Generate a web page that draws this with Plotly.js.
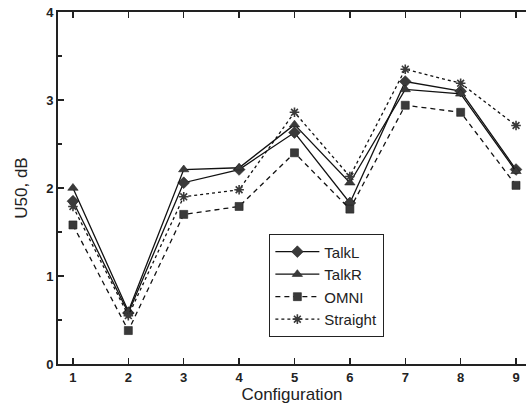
<!DOCTYPE html>
<html>
<head>
<meta charset="utf-8">
<script src="https://cdn.plot.ly/plotly-3.0.1.min.js"></script>
<style>
  html, body { margin: 0; padding: 0; background: #fff; }
  #chart { width: 526px; height: 411px; }
</style>
</head>
<body>
<div id="chart"></div>
<script>
// Configuration numbers on the x axis
const configurations = [1, 2, 3, 4, 5, 6, 7, 8, 9];

// U50 values (dB) for each microphone setting
const talkL    = [1.85, 0.58, 2.06, 2.21, 2.63, 1.83, 3.21, 3.10, 2.21];
const talkR    = [2.00, 0.60, 2.21, 2.23, 2.72, 2.06, 3.12, 3.07, 2.19];
const omni     = [1.58, 0.38, 1.70, 1.79, 2.40, 1.76, 2.94, 2.86, 2.03];
const straight = [1.79, 0.55, 1.90, 1.98, 2.86, 2.13, 3.35, 3.19, 2.71];

const seriesNames = ['TalkL', 'TalkR', 'OMNI', 'Straight'];
const xTickLabels = ['1', '2', '3', '4', '5', '6', '7', '8', '9'];
const yTickValues = [0, 1, 2, 3, 4];

const markFill = '#3a3a3a';

function series(name, values, symbol, size, dash) {
  const open = symbol.endsWith('-open');
  return {
    x: configurations,
    y: values,
    name: name,
    type: 'scatter',
    mode: 'lines+markers',
    line: { color: '#111', width: 1.3, dash: dash },
    marker: {
      symbol: symbol,
      size: size,
      color: markFill,
      line: { color: open ? markFill : '#222', width: open ? 1.6 : 0.6 }
    }
  };
}

const data = [
  series(seriesNames[0], talkL, 'diamond', 9, 'solid'),
  series(seriesNames[1], talkR, 'triangle-up', 9, 'solid'),
  series(seriesNames[2], omni, 'square', 8, '5px,4px'),
  series(seriesNames[3], straight, 'asterisk-open', 8, 'dot')
];

const tickFont = { family: 'Liberation Sans, Arial, sans-serif', size: 13, color: '#222', weight: 'bold' };

const layout = {
  width: 526,
  height: 411,
  margin: { l: 58, r: 0, t: 12, b: 47 },
  paper_bgcolor: '#fff',
  plot_bgcolor: '#fff',
  showlegend: true,
  xaxis: {
    range: [0.73, 9.18],
    tickvals: configurations,
    ticktext: xTickLabels,
    ticks: 'inside',
    ticklen: 6,
    tickwidth: 1.3,
    tickcolor: '#222',
    showline: true,
    linecolor: '#222',
    linewidth: 2,
    mirror: 'ticks',
    showgrid: false,
    zeroline: false,
    tickfont: tickFont,
    title: { text: 'Configuration', font: { family: 'Liberation Sans, Arial, sans-serif', size: 17, color: '#222' }, standoff: 5 }
  },
  yaxis: {
    range: [0, 4],
    tickvals: yTickValues,
    ticks: 'inside',
    ticklen: 6,
    tickwidth: 1.3,
    tickcolor: '#222',
    minor: { dtick: 0.5, ticks: 'inside', ticklen: 4, tickwidth: 1.3, tickcolor: '#222', showgrid: false },
    showline: true,
    linecolor: '#222',
    linewidth: 2,
    showgrid: false,
    zeroline: false,
    tickfont: tickFont,
    title: { text: 'U50, dB', font: { family: 'Liberation Sans, Arial, sans-serif', size: 17, color: '#222' }, standoff: 14 }
  },
  legend: {
    x: 0.451,
    y: 0.369,
    xanchor: 'left',
    yanchor: 'top',
    bgcolor: '#fff',
    bordercolor: '#222',
    borderwidth: 1.3,
    itemwidth: 44,
    font: { family: 'Liberation Sans, Arial, sans-serif', size: 15, color: '#222' },
    tracegroupgap: 0
  }
};

Plotly.newPlot('chart', data, layout, { displayModeBar: false, staticPlot: true });
</script>
</body>
</html>
